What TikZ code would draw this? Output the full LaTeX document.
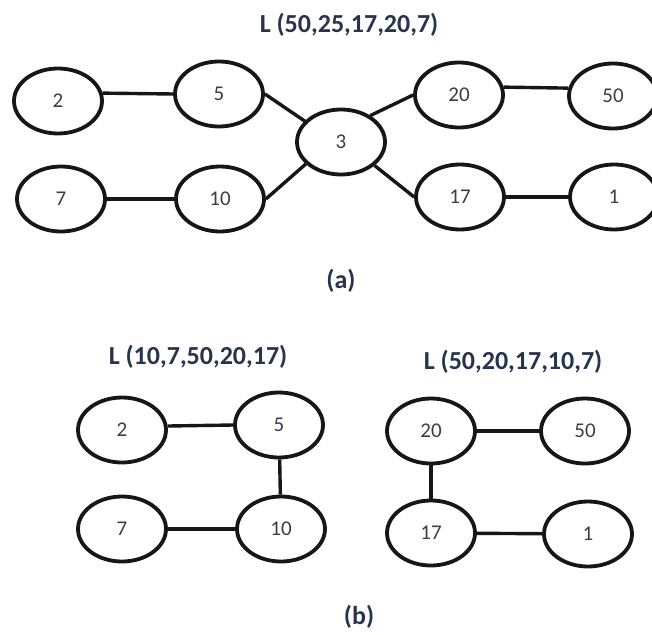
\documentclass[tikz,border=0pt]{standalone}
\usepackage{fontspec}
\setmainfont{Carlito}
\usetikzlibrary{shapes.geometric}
\definecolor{tinta}{RGB}{40,52,78}
\definecolor{cifra}{RGB}{60,60,72}
\definecolor{trazo}{RGB}{22,22,22}

\begin{document}
\begin{tikzpicture}[x=1pt, y=-1pt,
    nodo/.style={ellipse, draw=trazo, line width=3.8pt, minimum width=88pt,
      minimum height=65pt, inner sep=0pt, text=cifra,
      font=\fontsize{21}{24}\selectfont},
    arista/.style={draw=trazo, line width=3.4pt},
    titulo/.style={text=tinta, font=\fontsize{26}{30}\selectfont\bfseries}]
    \useasboundingbox (0,0) rectangle (652,634);

    % Arbol original
    \node[titulo] (tA) at (349,25) {L (50,25,17,20,7)};
    \node[nodo] (a2) at (58,101) {2};
    \node[nodo] (a5) at (219,94) {5};
    \node[nodo] (a3) at (341,142) {3};
    \node[nodo] (a20) at (459,95) {20};
    \node[nodo] (a50) at (613,96) {50};
    \node[nodo] (a7) at (61,199) {7};
    \node[nodo] (a10) at (220,199) {10};
    \node[nodo] (a17) at (460,197) {17};
    \node[nodo] (a1) at (614,197) {1};
    \node[titulo] (capA) at (341,281) {(a)};

    \draw[arista] (a2.10) -- (a5.west);
    \draw[arista] (a5.east) -- (a3.150);
    \draw[arista] (a10.east) -- (a3.212);
    \draw[arista] (a3.42) -- (a20.west);
    \draw[arista] (a3.-35) -- (a17.west);
    \draw[arista] (a20.10) -- (a50.170);
    \draw[arista] (a7) -- (a10);
    \draw[arista] (a17) -- (a1);

    % Las dos partes tras el corte
    \node[titulo] (tB1) at (198,357) {L (10,7,50,20,17)};
    \node[nodo] (b2) at (122,430) {2};
    \node[nodo] (b5) at (279,425) {5};
    \node[nodo] (b7) at (122,529) {7};
    \node[nodo] (b10) at (281,529) {10};

    \node[titulo] (tB2) at (513,362) {L (50,20,17,10,7)};
    \node[nodo] (b20) at (431,431) {20};
    \node[nodo] (b50) at (585,431) {50};
    \node[nodo] (b17) at (431,533) {17};
    \node[nodo] (b1) at (588,534) {1};
    \node[titulo] (capB) at (359,617) {(b)};

    \draw[arista] (b2.5) -- (b5.west);
    \draw[arista] (b5) -- (b10);
    \draw[arista] (b7) -- (b10);
    \draw[arista] (b20) -- (b50);
    \draw[arista] (b20) -- (b17);
    \draw[arista] (b17) -- (b1);
\end{tikzpicture}
\end{document}
